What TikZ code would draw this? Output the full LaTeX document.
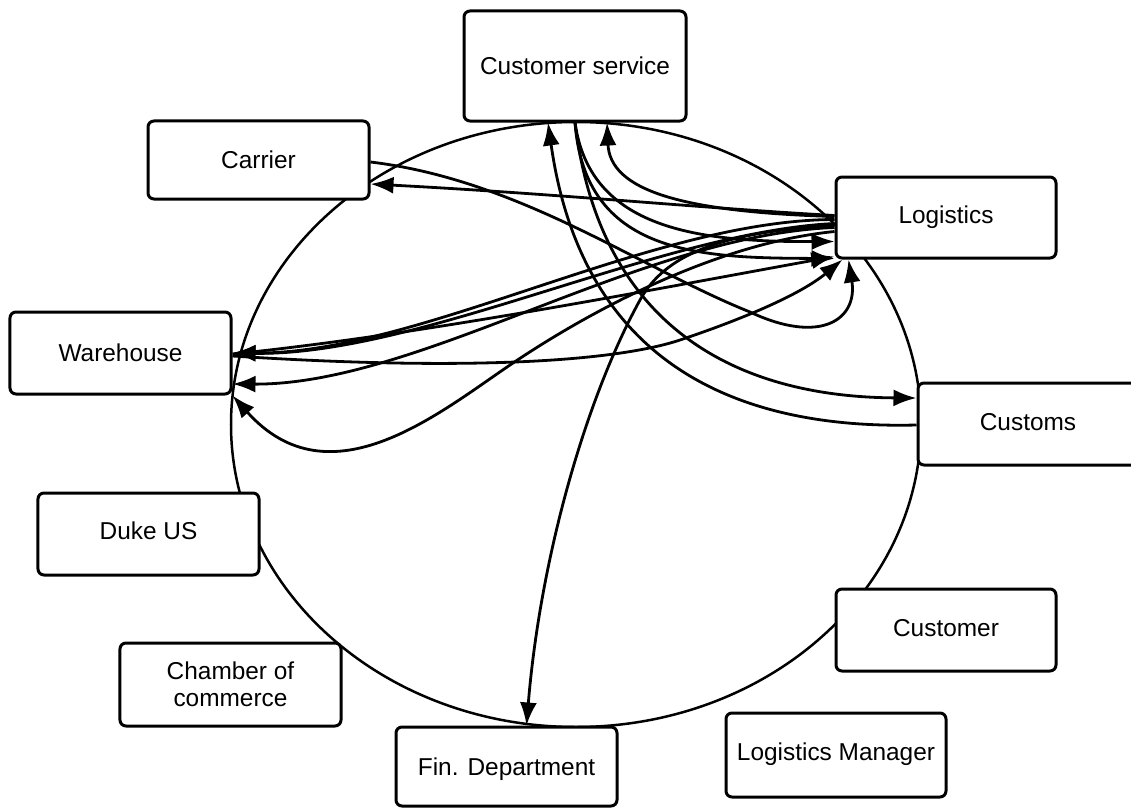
\documentclass[tikz,border=0pt]{standalone}
\usepackage{fontspec}
\setmainfont{Liberation Sans}
\usetikzlibrary{arrows.meta,calc}
\tikzset{
  box/.style={draw, line width=3bp, rounded corners=6bp, fill=white, inner sep=0pt,
    font=\fontsize{24.5}{27}\selectfont, align=center},
  oneline/.style={text height=17bp, text depth=0bp},
  link/.style={line width=2.8bp, -{Latex[length=23bp,width=17bp]}},
  ring/.style={line width=2.5bp},
}
\begin{document}
\begin{tikzpicture}[x=1bp,y=-1bp]
\useasboundingbox (0,0) rectangle (1131,808);

% the surrounding ellipse
\draw[ring] (576,424.5) ellipse [x radius=345bp, y radius=302.5bp];

% departments
\node[box, oneline, minimum width=222bp, minimum height=110bp] (cs) at (575,66) {Customer service};
\node[box, oneline, minimum width=221bp, minimum height=78bp] (carrier) at (258.5,160) {Carrier};
\node[box, oneline, minimum width=220bp, minimum height=81bp, text depth=5bp] (lg) at (946,217.5) {Logistics};
\node[box, oneline, minimum width=221bp, minimum height=82bp] (wh) at (120.5,353) {Warehouse};
\node[box, oneline, minimum width=220bp, minimum height=82bp, text depth=5bp] (customs) at (1028,424) {Customs};
\node[box, oneline, minimum width=221bp, minimum height=82bp, text depth=6bp] (duke) at (148.5,534) {Duke US};
\node[box, minimum width=221bp, minimum height=83bp] (chamber) at (230.5,684.5) {Chamber of\\commerce};
\node[box, oneline, minimum width=221bp, minimum height=79bp] (fin) at (506.5,766.5) {Fin. Department};
\node[box, oneline, minimum width=220bp, minimum height=82bp, text depth=4bp] (customer) at (946,630) {Customer};
\node[box, oneline, minimum width=220bp, minimum height=84bp, text depth=6bp] (lm) at (836,755) {Logistics Manager};

% flows between departments
\draw[link] ($(lg.west)+(0,-2)$) .. controls (700,208) and (560,194) .. ($(carrier.east)+(0,24)$);
\draw[link] ($(carrier.east)+(0,2)$) .. controls (520,180) and (640,268) .. (750,312)
            .. controls (820,345) and (858,320) .. ($(lg.south west)+(14,0)$);
\draw[link] ($(customs.west)+(0,1)$) .. controls (720,430) and (580,350) .. ($(cs.south)+(-27,0)$);
\draw[link] (cs.south) .. controls (600,330) and (740,397) .. ($(customs.west)+(0,-26)$);
\draw[link] ($(lg.west)+(0,-1)$) .. controls (680,212) and (610,190) .. ($(cs.south)+(32,0)$);
\draw[link] (cs.south) .. controls (590,230) and (700,242) .. ($(lg.west)+(0,24)$);
\draw[link] (cs.south) .. controls (585,255) and (700,258) .. ($(lg.south west)+(0,-1)$);
\draw[link] ($(lg.west)+(0,2)$) .. controls (650,220) and (420,354) .. (wh.east);
\draw[link] ($(lg.west)+(0,6)$) .. controls (660,232) and (420,356) .. (wh.east);
\draw[link] ($(wh.east)+(0,1)$) .. controls (420,335) and (650,290) .. ($(lg.south west)+(0,-3)$);
\draw[link] ($(lg.west)+(0,10)$) .. controls (640,235) and (420,385) .. ($(wh.east)+(0,31)$);
\draw[link] ($(lg.west)+(0,14)$) .. controls (700,245) and (565,328) .. (513,363)
            .. controls (440,412) and (330,505) .. (wh.south east);
\draw[link] ($(wh.east)+(0,3)$) .. controls (480,372) and (620,360) .. (680,340)
            .. controls (740,320) and (800,295) .. ($(lg.south west)+(8,0)$);
\draw[link] ($(lg.west)+(0,8)$) .. controls (720,232) and (665,255) .. (640,300)
            .. controls (585,400) and (540,560) .. ($(fin.north)+(20,0)$);
\end{tikzpicture}
\end{document}
